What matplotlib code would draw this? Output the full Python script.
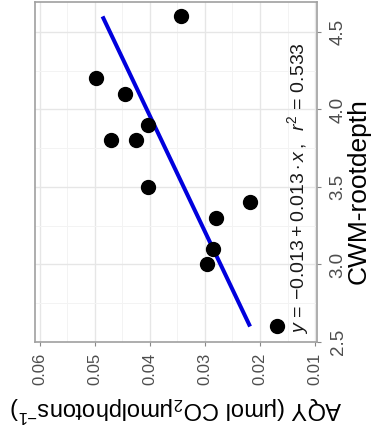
import numpy as np
import matplotlib
matplotlib.use("Agg")
import matplotlib.pyplot as plt
from matplotlib.ticker import MultipleLocator

plt.rcParams['font.family'] = ['Liberation Sans', 'DejaVu Sans']
plt.rcParams['mathtext.fontset'] = 'custom'
plt.rcParams['mathtext.rm'] = 'Liberation Sans'
plt.rcParams['mathtext.it'] = 'Liberation Sans:italic'
plt.rcParams['mathtext.bf'] = 'Liberation Sans:bold'

rootdepth = [4.60, 4.20, 4.10, 3.90, 3.80, 3.80, 3.50, 3.40, 3.30, 3.10, 3.00, 2.60]
aqy = [0.0344, 0.0498, 0.0445, 0.0404, 0.0471, 0.0425, 0.0404, 0.0218, 0.0280, 0.0285, 0.0296, 0.0169]
aqy_ticks = [0.06, 0.05, 0.04, 0.03, 0.02, 0.01]
depth_ticks = [2.5, 3.0, 3.5, 4.0, 4.5]
eq_text = r'$y\,=\,{-0.013}+0.013\cdot x\,,\;\; r^2\,=\,0.533$'

fig = plt.figure(figsize=(3.72, 4.36), dpi=100)
ax = fig.add_axes([35/372, 1-342/436, 282/372, 340/436])

# linear fit AQY ~ rootdepth
k, b = np.polyfit(rootdepth, aqy, 1)
xs = np.array([min(rootdepth), max(rootdepth)])
ax.plot(k*xs + b, xs, color='#0000dd', lw=2.9, solid_capstyle='butt', zorder=3)
ax.plot(aqy, rootdepth, 'o', color='black', ms=10, zorder=4)

ax.text(0.0131, 2.55, eq_text, rotation=90, rotation_mode='anchor',
        ha='left', va='center', fontsize=14, color='#1a1a1a')

ax.set_xlim(0.0609, 0.00964)
ax.set_ylim(2.506, 4.693)
ax.set_xticks(aqy_ticks)
ax.set_xticklabels([f'{v:.2f}' for v in aqy_ticks], rotation=90)
ax.set_yticks(depth_ticks)
ax.set_yticklabels([f'{v:.1f}' for v in depth_ticks], rotation=90, va='center')
ax.xaxis.set_minor_locator(MultipleLocator(0.005))
ax.yaxis.set_minor_locator(MultipleLocator(0.25))
ax.yaxis.tick_right()
ax.yaxis.set_label_position('right')

ax.grid(which='major', color='#e6e6e6', lw=1.0)
ax.grid(which='minor', color='#f3f3f3', lw=0.7)
ax.set_axisbelow(True)
for s in ax.spines.values():
    s.set_color('#a0a0a0')
    s.set_linewidth(1.2)

ax.tick_params(axis='x', which='major', length=3, color='#888888',
               labelsize=12, labelcolor='#4d4d4d', pad=5)
ax.tick_params(axis='y', which='major', length=3, color='#888888',
               labelsize=13.5, labelcolor='#4d4d4d', pad=6)
ax.tick_params(which='minor', length=0)

ax.set_ylabel('CWM-rootdepth', fontsize=19, rotation=90)
ylab = ax.yaxis.label
ylab.set_rotation_mode('anchor')
ylab.set_verticalalignment('baseline')
ylab.set_horizontalalignment('center')
ax.yaxis.set_label_coords(1.174, 0.444)
ax.set_xlabel(r'AQY ($\mathrm{\mu}$mol CO$_2$$\mathrm{\mu}$molphotons$^{-1}$)',
              fontsize=17, rotation=180, labelpad=6)

fig.savefig('out.png', dpi=100)
